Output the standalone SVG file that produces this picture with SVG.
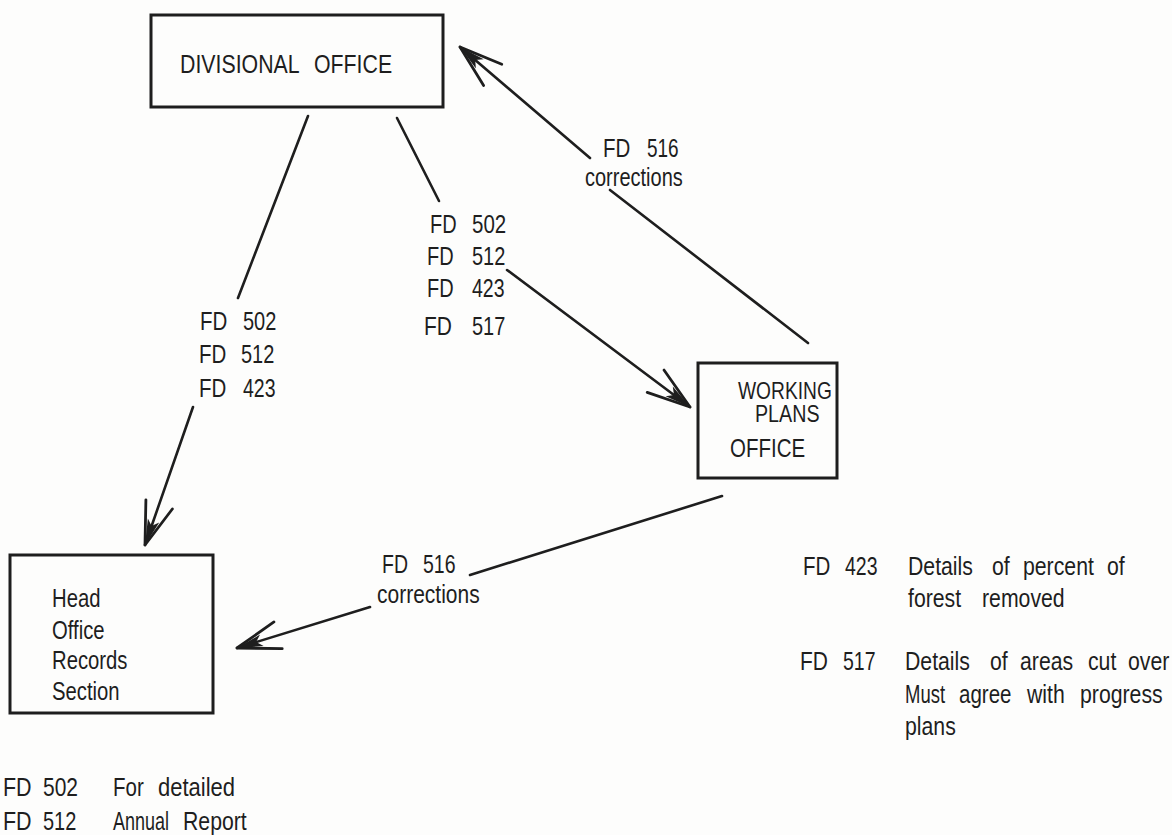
<svg xmlns="http://www.w3.org/2000/svg" width="1172" height="835" viewBox="0 0 1172 835">
<style>
.bg{fill:#fdfdfc}
.box{fill:none;stroke:#1e1e1e;stroke-width:3}
.ln{fill:none;stroke:#1e1e1e;stroke-width:2.6;stroke-linecap:round}
.t{font-family:"Liberation Sans",Arial,sans-serif;font-size:25px;fill:#1e1e1e}
.b{font-size:26px}
.s{font-size:24px}
</style>
<defs>
<marker id="ah" markerUnits="userSpaceOnUse" viewBox="-50 -20 60 40" markerWidth="60" markerHeight="40" refX="0" refY="0" orient="auto" overflow="visible">
<path d="M-43,-14 L0,0 L-43,14" fill="none" stroke="#1e1e1e" stroke-width="2.8" stroke-linecap="round" stroke-linejoin="round"/>
<path d="M0,0 L-26,-6 L-20,0 L-26,6 Z" fill="#1e1e1e"/>
</marker>
</defs>
<rect class="bg" x="0" y="0" width="1172" height="835"/>

<g id="divisional-office">
<rect class="box" x="151" y="15" width="292" height="92"/>
<text class="t b" transform="translate(180 73) scale(.82 1)">DIVISIONAL</text>
<text class="t b" transform="translate(314 73) scale(.82 1)">OFFICE</text>
</g>

<g id="working-plans-office">
<rect class="box" x="698" y="363" width="139" height="115"/>
<text class="t s" transform="translate(738 399) scale(.8 1)">WORKING</text>
<text class="t s" transform="translate(755 422) scale(.82 1)">PLANS</text>
<text class="t" transform="translate(730 457) scale(.82 1)">OFFICE</text>
</g>

<g id="head-office">
<rect class="box" x="10" y="555" width="203" height="158"/>
<text class="t b" transform="translate(52 607) scale(.78 1)">Head</text>
<text class="t b" transform="translate(52 639) scale(.78 1)">Office</text>
<text class="t b" transform="translate(52 669) scale(.78 1)">Records</text>
<text class="t b" transform="translate(52 700) scale(.78 1)">Section</text>
</g>

<g id="connectors">
<line class="ln" x1="308" y1="116" x2="238" y2="298"/>
<line class="ln" x1="193" y1="407" x2="145" y2="545" marker-end="url(#ah)"/>
<line class="ln" x1="397" y1="118" x2="439" y2="201"/>
<line class="ln" x1="507" y1="270" x2="690" y2="407" marker-end="url(#ah)"/>
<line class="ln" x1="808" y1="343" x2="610" y2="190"/>
<line class="ln" x1="590" y1="158" x2="460" y2="47" marker-end="url(#ah)"/>
<line class="ln" x1="722" y1="496" x2="470" y2="575"/>
<line class="ln" x1="370" y1="607" x2="237" y2="648" marker-end="url(#ah)"/>
</g>

<g id="labels-left">
<text class="t" transform="translate(200 330) scale(.82 1)">FD</text>
<text class="t" transform="translate(243 330) scale(.8 1)">502</text>
<text class="t" transform="translate(199 363) scale(.82 1)">FD</text>
<text class="t" transform="translate(241 363) scale(.8 1)">512</text>
<text class="t" transform="translate(199 397) scale(.82 1)">FD</text>
<text class="t" transform="translate(243 397) scale(.78 1)">423</text>
</g>

<g id="labels-middle">
<text class="t" transform="translate(430 233) scale(.8 1)">FD</text>
<text class="t" transform="translate(472 233) scale(.82 1)">502</text>
<text class="t" transform="translate(427 265) scale(.8 1)">FD</text>
<text class="t" transform="translate(472 265) scale(.8 1)">512</text>
<text class="t" transform="translate(427 297) scale(.8 1)">FD</text>
<text class="t" transform="translate(472 297) scale(.78 1)">423</text>
<text class="t" transform="translate(424 335) scale(.84 1)">FD</text>
<text class="t" transform="translate(472 335) scale(.8 1)">517</text>
</g>

<g id="labels-corrections">
<text class="t" transform="translate(603 157) scale(.82 1)">FD</text>
<text class="t" transform="translate(647 157) scale(.76 1)">516</text>
<text class="t" transform="translate(585 186) scale(.8 1)">corrections</text>
<text class="t" transform="translate(382 573) scale(.78 1)">FD</text>
<text class="t" transform="translate(423 573) scale(.78 1)">516</text>
<text class="t" transform="translate(377 603) scale(.84 1)">corrections</text>
</g>

<g id="legend-right">
<text class="t" transform="translate(803 575) scale(.82 1)">FD</text>
<text class="t" transform="translate(845 575) scale(.78 1)">423</text>
<text class="t" transform="translate(908 575) scale(.85 1)">Details</text>
<text class="t" transform="translate(992 575) scale(.85 1)">of</text>
<text class="t" transform="translate(1023 575) scale(.85 1)">percent</text>
<text class="t" transform="translate(1107 575) scale(.85 1)">of</text>
<text class="t" transform="translate(908 607) scale(.85 1)">forest</text>
<text class="t" transform="translate(982 607) scale(.85 1)">removed</text>
<text class="t" transform="translate(800 670) scale(.84 1)">FD</text>
<text class="t" transform="translate(843 670) scale(.78 1)">517</text>
<text class="t" transform="translate(905 670) scale(.85 1)">Details</text>
<text class="t" transform="translate(990 670) scale(.85 1)">of</text>
<text class="t" transform="translate(1020 670) scale(.85 1)">areas</text>
<text class="t" transform="translate(1088 670) scale(.85 1)">cut</text>
<text class="t" transform="translate(1128 670) scale(.85 1)">over</text>
<text class="t" transform="translate(905 703) scale(.74 1)">Must</text>
<text class="t" transform="translate(959 703) scale(.82 1)">agree</text>
<text class="t" transform="translate(1027 703) scale(.85 1)">with</text>
<text class="t" transform="translate(1080 703) scale(.85 1)">progress</text>
<text class="t" transform="translate(905 735) scale(.85 1)">plans</text>
</g>

<g id="legend-bottom">
<text class="t" transform="translate(3 796) scale(.86 1)">FD</text>
<text class="t" transform="translate(43 796) scale(.84 1)">502</text>
<text class="t" transform="translate(113 796) scale(.82 1)">For</text>
<text class="t" transform="translate(158 796) scale(.88 1)">detailed</text>
<text class="t" transform="translate(3 830) scale(.86 1)">FD</text>
<text class="t" transform="translate(43 830) scale(.8 1)">512</text>
<text class="t" transform="translate(113 830) scale(.72 1)">Annual</text>
<text class="t" transform="translate(183 830) scale(.85 1)">Report</text>
</g>
</svg>
